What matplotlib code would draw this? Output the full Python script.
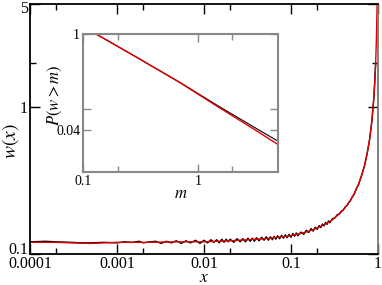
import matplotlib
matplotlib.use('Agg')
import matplotlib.pyplot as plt
import matplotlib.transforms as mtransforms
from matplotlib.ticker import FixedLocator, NullFormatter

# main panel: w(x), black = simulation (noisy), red = theory
black_x = [0.0001, 0.00015, 0.0002, 0.0003, 0.0004, 0.0005, 0.0007, 0.001, 0.0012, 0.0015,
           0.0018, 0.002, 0.0024, 0.0028, 0.0032, 0.0037, 0.0042, 0.0048, 0.0055, 0.0062,
           0.007, 0.008, 0.009, 0.01, 0.011, 0.012, 0.013, 0.014, 0.015, 0.016,
           0.017, 0.018, 0.019, 0.02, 0.022, 0.024, 0.026, 0.028, 0.03, 0.032,
           0.034, 0.036, 0.038, 0.04, 0.043, 0.046, 0.049, 0.052, 0.055, 0.058,
           0.061, 0.064, 0.067, 0.07, 0.074, 0.078, 0.082, 0.086, 0.09, 0.095,
           0.1, 0.105, 0.11, 0.115, 0.12, 0.13, 0.14, 0.15, 0.16, 0.17,
           0.18, 0.19, 0.2, 0.21, 0.22, 0.23, 0.24, 0.25, 0.26, 0.27,
           0.28, 0.3, 0.32, 0.34, 0.36, 0.38, 0.4, 0.42, 0.44, 0.46,
           0.48, 0.5, 0.53, 0.56, 0.6, 0.65, 0.7, 0.75, 0.8, 0.85, 0.9, 0.94]
black_w = [0.121, 0.122, 0.121, 0.120, 0.119, 0.119, 0.120, 0.119, 0.121, 0.120,
           0.122, 0.119, 0.121, 0.122, 0.118, 0.122, 0.119, 0.123, 0.118, 0.123,
           0.119, 0.124, 0.118, 0.124, 0.119, 0.125, 0.120, 0.125, 0.119, 0.126,
           0.120, 0.126, 0.121, 0.126, 0.120, 0.127, 0.121, 0.127, 0.121, 0.128,
           0.122, 0.128, 0.122, 0.129, 0.123, 0.130, 0.124, 0.131, 0.124, 0.131,
           0.125, 0.132, 0.126, 0.133, 0.127, 0.134, 0.128, 0.135, 0.129, 0.136,
           0.130, 0.138, 0.132, 0.139, 0.133, 0.141, 0.136, 0.145, 0.140, 0.149,
           0.143, 0.152, 0.147, 0.156, 0.151, 0.160, 0.155, 0.164, 0.159, 0.168,
           0.163, 0.174, 0.176, 0.185, 0.187, 0.196, 0.199, 0.209, 0.213, 0.224,
           0.229, 0.242, 0.253, 0.276, 0.298, 0.345, 0.398, 0.482, 0.598, 0.805, 1.19, 1.98]

red_x = [0.0001, 0.0002, 0.0003, 0.0005, 0.0007, 0.001, 0.002, 0.005, 0.01, 0.02,
         0.05, 0.1, 0.15, 0.2, 0.25, 0.3, 0.35, 0.4, 0.45, 0.5,
         0.55, 0.6, 0.65, 0.7, 0.75, 0.8, 0.84, 0.87, 0.9, 0.92,
         0.94, 0.955, 0.965, 0.976]
red_w = [0.120, 0.120, 0.119, 0.118, 0.119, 0.120, 0.120, 0.121, 0.121, 0.123,
         0.127, 0.133, 0.141, 0.150, 0.160, 0.171, 0.185, 0.200, 0.218, 0.240,
         0.267, 0.300, 0.343, 0.400, 0.480, 0.600, 0.750, 0.920, 1.20, 1.50,
         2.00, 2.67, 3.43, 5.00]

# inset: P(w>m)
ins_m = [0.13, 0.3, 0.7, 1.5, 3.0, 5.0]
ins_black = [1.0, 0.45, 0.199, 0.091, 0.046, 0.028]
ins_red = [1.0, 0.45, 0.197, 0.088, 0.043, 0.025]

plt.rcParams['font.family'] = 'Liberation Serif'
plt.rcParams['mathtext.fontset'] = 'stix'

fig = plt.figure(figsize=(3.82, 2.85), dpi=100)
ax = fig.add_axes([30/382, 31/285, 348/382, 250/285])

ax.plot(black_x, black_w, color='black', lw=1.0)
ax.plot(red_x, red_w, color='#e00000', lw=1.0)

ax.set_xscale('log')
ax.set_yscale('log')
ax.set_xlim(0.0001, 1)
ax.set_ylim(0.1, 5)

ax.xaxis.set_major_locator(FixedLocator([0.0001, 0.001, 0.01, 0.1, 1]))
ax.xaxis.set_minor_locator(FixedLocator([0.0002, 0.002, 0.02, 0.2]))
ax.set_xticklabels(['0.0001', '0.001', '0.01', '0.1', '1'])
ax.xaxis.set_minor_formatter(NullFormatter())
ax.yaxis.set_major_locator(FixedLocator([0.1, 1, 5]))
ax.yaxis.set_minor_locator(FixedLocator([2]))
ax.set_yticklabels(['0.1', '1', '5'])
ax.yaxis.set_minor_formatter(NullFormatter())

ax.tick_params(which='both', direction='in', top=True, right=True, labelsize=11.5, pad=1.5)
ax.tick_params(which='major', length=7, width=1)
ax.tick_params(which='minor', length=4, width=1)
for s in ax.spines.values():
    s.set_linewidth(1.3)
ax.spines['right'].set_color('#777777')

# nudge "0.1" up (clears "0.0001") and "5" down (stays inside the figure)
ylbls = ax.get_yticklabels()
ylbls[0].set_transform(ylbls[0].get_transform() + mtransforms.ScaledTranslation(0, 6/100, fig.dpi_scale_trans))
ylbls[2].set_transform(ylbls[2].get_transform() + mtransforms.ScaledTranslation(0, -3/100, fig.dpi_scale_trans))

ax.set_xlabel(r'$x$', fontsize=12.5)
ax.xaxis.set_label_coords(0.5, -0.066)
ax.set_ylabel(r'$w(x)$', fontsize=14)
ax.yaxis.set_label_coords(-0.025, 0.45)

# inset
ins = fig.add_axes([83/382, 113/285, 195/382, 138/285])
ins.plot(ins_m, ins_black, color='black', lw=0.8)
ins.plot(ins_m, ins_red, color='#e00000', lw=1.0)
ins.set_xscale('log')
ins.set_yscale('log')
ins.set_xlim(0.1, 5)
ins.set_ylim(0.01, 1)

ins.xaxis.set_major_locator(FixedLocator([0.1, 1]))
ins.xaxis.set_minor_locator(FixedLocator([0.2, 2]))
ins.set_xticklabels(['0.1', '1'])
ins.xaxis.set_minor_formatter(NullFormatter())
ins.yaxis.set_major_locator(FixedLocator([0.04, 0.083, 1]))
ins.yaxis.set_minor_locator(FixedLocator([]))
ins.set_yticklabels(['0.04', '', '1'])
ins.yaxis.set_minor_formatter(NullFormatter())

gray = '#888888'
ins.tick_params(which='both', direction='in', top=True, right=True, labelsize=10,
                color=gray, pad=2)
ins.tick_params(which='major', length=6, width=1)
ins.tick_params(which='minor', length=4, width=1)
for s in ins.spines.values():
    s.set_linewidth(1.5)
    s.set_color(gray)

ins.set_xlabel(r'$m$', fontsize=12)
ins.xaxis.set_label_coords(0.5, -0.10)
ins.set_ylabel(r'$P(w>m)$', fontsize=12)
ins.yaxis.set_label_coords(-0.10, 0.56)

fig.savefig('out.png', dpi=100)
